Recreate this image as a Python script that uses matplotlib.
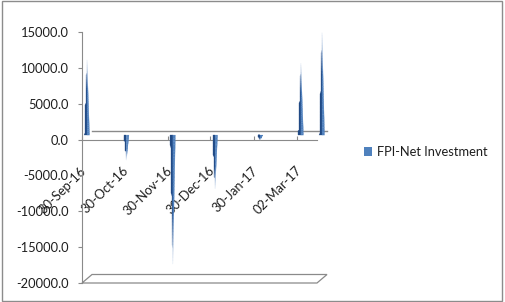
import numpy as np
import pandas as pd
import matplotlib
matplotlib.use("Agg")
import matplotlib.pyplot as plt
import matplotlib.dates as mdates
from matplotlib.transforms import ScaledTranslation
from matplotlib.patches import Polygon, Patch, Rectangle
from matplotlib.collections import PolyCollection

plt.rcParams['font.family'] = ['Lato', 'DejaVu Sans']

# ---- data ----
dates = ['2016-09-30', '2016-10-28', '2016-11-30', '2016-12-30',
         '2017-01-31', '2017-03-01', '2017-03-16']
values = [10500, -3500, -18000, -7500, -700, 10000, 14300]
tick_dates = ['2016-09-30', '2016-10-30', '2016-11-30', '2016-12-30',
              '2017-01-30', '2017-03-02']
tick_labels = ['30-Sep-16', '30-Oct-16', '30-Nov-16', '30-Dec-16',
               '30-Jan-17', '02-Mar-17']
y_ticks = [-20000, -15000, -10000, -5000, 0, 5000, 10000, 15000]
series_name = 'FPI-Net Investment'

GRAY = '#8a8a8a'
TXT = '#1e1e1e'

fig = plt.figure(figsize=(5.05, 3.02), dpi=100)
fig.patches.append(Rectangle((0.004, 0.004), 0.991, 0.992, transform=fig.transFigure,
                             fill=False, edgecolor='#8c8c8c', lw=1))
ax = fig.add_axes([82/505, 19/302, 235/505, 251/302])
ax.patch.set_alpha(0)

x = mdates.date2num(pd.to_datetime(dates))
xt = mdates.date2num(pd.to_datetime(tick_dates))
x0 = x[0]
x1 = x[-1]
y0, y1 = -20000, 15000


def px(dx, dy):
    return ScaledTranslation(dx/100, dy/100, fig.dpi_scale_trans)


half = ax.transData + px(5, 4.5)
full = ax.transData + px(10, 8.5)

w = 1.8  # half base width in days
dark = np.array([0.13, 0.29, 0.52])
mid = np.array([0.31, 0.50, 0.74])
light = np.array([0.93, 0.95, 0.98])
n = 40
for xi, v in zip(x, values):
    polys, cols = [], []
    for k in range(n):
        a, b = k / n, (k + 1) / n
        tm = (a + b) / 2
        f = np.clip((tm - 0.6) / 0.4, 0, 1)
        # left face
        polys.append([(xi - w * (1 - a), v * a), (xi, v * a), (xi, v * b),
                      (xi - w * (1 - b), v * b)])
        cols.append(tuple(dark * (1 - f) + light * f))
        # right face
        polys.append([(xi, v * a), (xi + w * (1 - a), v * a),
                      (xi + w * (1 - b), v * b), (xi, v * b)])
        cols.append(tuple(mid * (1 - f) + light * f))
    pc = PolyCollection(polys, facecolors=cols, edgecolors=cols, linewidths=0.2,
                        transform=half, clip_on=False, zorder=3)
    ax.add_collection(pc)

ax.set_xlim(x0, x1)
ax.set_ylim(y0, y1)

# back zero line
ax.plot([x0, x1], [0, 0], transform=full, color=GRAY, lw=1, clip_on=False, zorder=1)

# floor
p0 = ax.transData.transform((x0, y0))
q = ax.transData.inverted().transform(p0 + np.array([10, 8.5]))
ddx, ddy = q[0] - x0, q[1] - y0
floor = Polygon([(x0, y0), (x1, y0), (x1 + ddx, y0 + ddy), (x0 + ddx, y0 + ddy)],
                closed=True, facecolor='white', edgecolor=GRAY, lw=0.9,
                clip_on=False, zorder=1)
ax.add_patch(floor)

for sp in ['top', 'right']:
    ax.spines[sp].set_visible(False)
ax.spines['bottom'].set_position(('data', 0))
ax.spines['bottom'].set_color(GRAY)
ax.spines['left'].set_color(GRAY)
ax.spines['bottom'].set_zorder(2)

ax.set_yticks(y_ticks)
ax.set_yticklabels([f'{v:.1f}' for v in y_ticks])
ax.tick_params(axis='y', direction='out', length=3, color=GRAY, pad=6.5,
               labelsize=9.3, labelcolor=TXT)
ax.set_xticks(xt)
ax.set_xticklabels(tick_labels, rotation=45, ha='right', va='center',
                   rotation_mode='anchor')
ax.tick_params(axis='x', direction='in', length=3, color=GRAY, pad=21,
               labelsize=9.3, labelcolor=TXT)
for lab in ax.get_xticklabels():
    lab.set_transform(lab.get_transform() + px(2, 0))

fig.legend(handles=[Patch(facecolor='#4F81BD', edgecolor='none', label=series_name)],
           loc='center left', bbox_to_anchor=(364/505, 1 - 152/302),
           frameon=False, handlelength=0.6, handleheight=0.6, handletextpad=0.4,
           fontsize=9.3, borderaxespad=0, borderpad=0, labelcolor=TXT)

fig.savefig('out.png', dpi=100)
